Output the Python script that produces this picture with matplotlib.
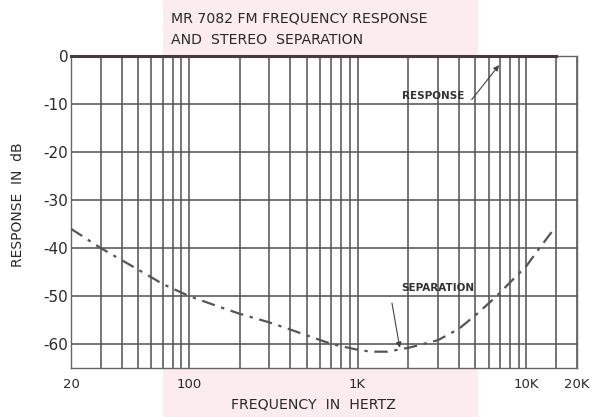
import matplotlib
matplotlib.use("Agg")
import matplotlib.pyplot as plt
from matplotlib.patches import Rectangle

# ---- data ----
title_lines = ["MR 7082 FM FREQUENCY RESPONSE", "AND  STEREO  SEPARATION"]
x_major = [20, 100, 1000, 10000, 20000]
x_major_labels = ["20", "100", "1K", "10K", "20K"]
x_minor = [30, 40, 50, 60, 70, 80, 90,
           200, 300, 400, 500, 600, 700, 800, 900,
           2000, 3000, 4000, 5000, 6000, 7000, 8000, 9000, 15000]
y_ticks = [0, -10, -20, -30, -40, -50, -60]

resp_freq = [20, 15000]
resp_db = [0, 0]

sep_freq = [20, 30, 50, 70, 100, 150, 200, 300, 400, 500, 700, 1000, 1200, 1500,
            2000, 3000, 4000, 5000, 6600, 8000, 10000, 12000, 15000]
sep_db = [-36, -40, -44.5, -47.5, -50, -52.2, -53.7, -55.5, -57.0, -58.2, -60.0, -61.2,
          -61.6, -61.6, -60.8, -59.2, -56.8, -54.0, -50.2, -47.2, -43.8, -40.0, -35.5]

plt.rcParams['font.family'] = ['DejaVu Sans']

fig = plt.figure(figsize=(5.95, 4.17), dpi=100)
fig.patch.set_facecolor('white')
# faint pink scan band behind the figure
fig.patches.append(Rectangle((163/595, 0), (478-163)/595, 1, transform=fig.transFigure,
                             facecolor='#fcebef', edgecolor='none', zorder=-10))

ax = fig.add_axes([71/595, 1-368/417, (577-71)/595, (368-56)/417])
ax.set_facecolor('white')
ax.set_xscale('log')
ax.set_xlim(20, 20000)
ax.set_ylim(-65, 0)

ax.set_xticks(x_major)
ax.set_xticklabels(x_major_labels)
ax.set_xticks(x_minor, minor=True)
ax.set_xticklabels([], minor=True)
ax.set_yticks(y_ticks)
ax.set_yticklabels([str(v) for v in y_ticks])
ax.tick_params(which='both', length=0)
ax.tick_params(axis='x', labelsize=9.5, pad=7, colors='#2a2a2a')
ax.tick_params(axis='y', labelsize=11, pad=2, colors='#2a2a2a')

ax.grid(True, which='both', color='#505050', linewidth=1.1)
for s in ax.spines.values():
    s.set_color('#666666')
    s.set_linewidth(1.0)

ax.plot(resp_freq, resp_db, color='#4a3a3e', linewidth=2.2, clip_on=False, zorder=5)
ax.plot(sep_freq, sep_db, color='#555555', linewidth=1.6, linestyle=(0, (6, 3, 1.5, 3)),
        zorder=5)

ax.annotate("", xy=(6900, -1.9), xytext=(4750, -9.1),
            arrowprops=dict(arrowstyle='-|>', color='#444444', lw=0.8,
                            shrinkA=0, shrinkB=0, mutation_scale=8))
ax.text(2800, -8.4, "RESPONSE", fontsize=7.5, fontweight='bold', color='#333333',
        ha='center', va='center')
ax.annotate("", xy=(1780, -60.8), xytext=(1600, -51.5),
            arrowprops=dict(arrowstyle='-|>', color='#444444', lw=0.8,
                            shrinkA=0, shrinkB=0, mutation_scale=8))
ax.text(3000, -48.4, "SEPARATION", fontsize=7.5, fontweight='bold', color='#333333',
        ha='center', va='center')

fig.text(171/595, 1-18/417, title_lines[0], fontsize=10.2, ha='left', va='center', color='#2a2a2a')
fig.text(171/595, 1-40/417, title_lines[1], fontsize=10.2, ha='left', va='center', color='#2a2a2a')
fig.text(313/595, 1-405/417, "FREQUENCY  IN  HERTZ", fontsize=10.2, ha='center', va='center',
         color='#2a2a2a')
fig.text(18/595, 1-205/417, "RESPONSE  IN  dB", fontsize=10, ha='center', va='center',
         rotation=90, color='#2a2a2a')

fig.savefig("out.png", dpi=100)
